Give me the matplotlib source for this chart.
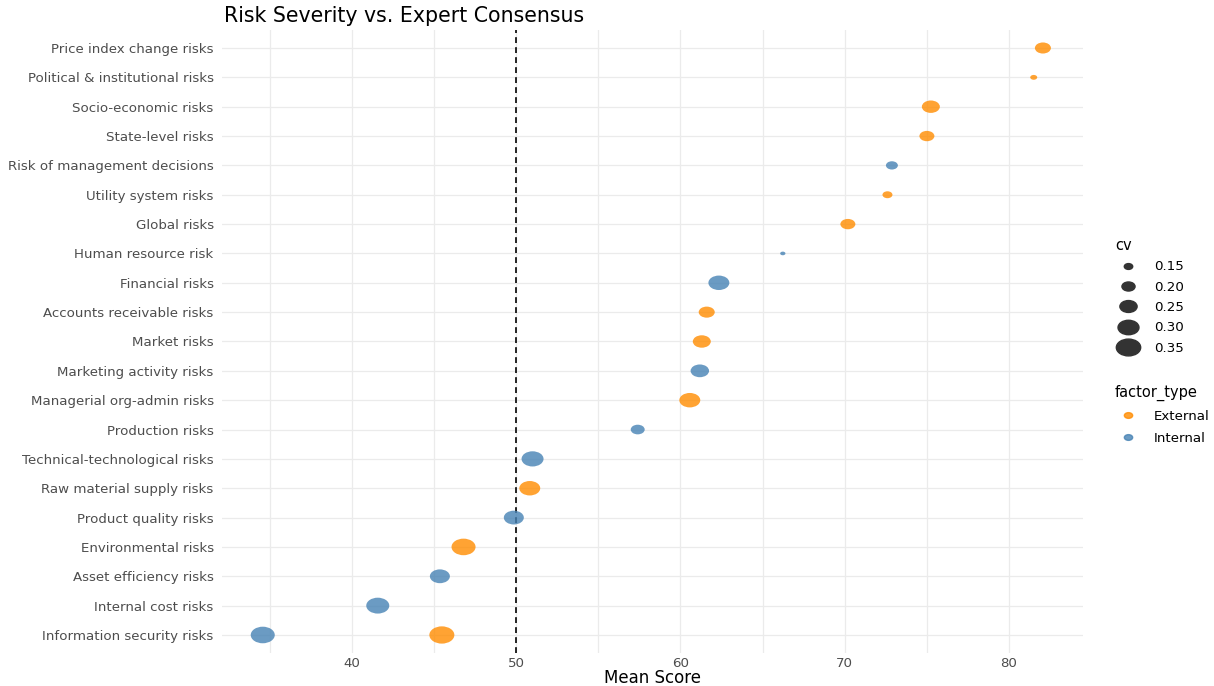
import numpy as np
import matplotlib.pyplot as plt
from matplotlib.path import Path
from matplotlib.transforms import Affine2D
from matplotlib.lines import Line2D

plt.rcParams['font.family'] = ['DejaVu Sans']

# categories, top to bottom
categories = [
    "Price index change risks", "Political & institutional risks",
    "Socio-economic risks", "State-level risks",
    "Risk of management decisions", "Utility system risks", "Global risks",
    "Human resource risk", "Financial risks", "Accounts receivable risks",
    "Market risks", "Marketing activity risks", "Managerial org-admin risks",
    "Production risks", "Technical-technological risks",
    "Raw material supply risks", "Product quality risks",
    "Environmental risks", "Asset efficiency risks", "Internal cost risks",
    "Information security risks",
]

# one entry per point
point_factor = categories + ["Information security risks"]
mean_score = [82.06, 81.5, 75.24, 75.0, 72.87, 72.6, 70.19, 66.23, 62.34,
              61.6, 61.3, 61.18, 60.57, 57.4, 51.0, 50.83, 49.86, 46.8,
              45.36, 41.58, 34.58, 45.48]
cv = [0.235, 0.136, 0.26, 0.222, 0.187, 0.166, 0.222, 0.12, 0.30, 0.235,
      0.26, 0.266, 0.30, 0.21, 0.315, 0.30, 0.287, 0.345, 0.287, 0.33,
      0.345, 0.36]
factor_type = ["External", "External", "External", "External", "Internal",
               "External", "External", "Internal", "Internal", "External",
               "External", "Internal", "External", "Internal", "Internal",
               "External", "Internal", "External", "Internal", "Internal",
               "Internal", "External"]

cv_breaks = [0.15, 0.20, 0.25, 0.30, 0.35]
type_colors = {"External": "#FF8C00", "Internal": "#4682B4"}

# ellipse marker (the reference is stretched horizontally)
ell = Path.unit_circle().transformed(Affine2D().scale(1.0, 1 / 1.45))

cmin, cmax = min(cv), max(cv)


def diam_pt(c):
    # ggplot-like area scale, range 1..6
    size = 1 + 5 * (np.sqrt(c) - np.sqrt(cmin)) / (np.sqrt(cmax) - np.sqrt(cmin))
    return size * 2.845 + 0.945


fig = plt.figure(figsize=(12.14, 6.86), dpi=100)
ax = fig.add_axes([222 / 1214, 0.0487, (1083 - 222) / 1214, 0.907])

ypos = {c: i + 1 for i, c in enumerate(categories)}
ys = np.array([ypos[f] for f in point_factor])
xs = np.array(mean_score)
sizes = np.array([diam_pt(c) ** 2 for c in cv])
cols = [type_colors[t] for t in factor_type]

ax.scatter(xs, ys, s=sizes, c=cols, marker=ell, alpha=0.8, linewidths=0,
           zorder=3)
ax.axvline(50, color="black", linestyle=(0, (3.5, 2.5)), linewidth=1.2,
           zorder=2)

ax.set_ylim(len(categories) + 0.6, 0.4)
ax.set_yticks(range(1, len(categories) + 1))
ax.set_yticklabels(categories)
ax.set_xlim(32.1, 84.5)
ax.set_xticks([40, 50, 60, 70, 80])
ax.set_xticks([35, 45, 55, 65, 75], minor=True)
ax.grid(True, which="both", color="#EBEBEB", linewidth=0.9, zorder=0)
ax.set_axisbelow(True)
for s in ax.spines.values():
    s.set_visible(False)
ax.tick_params(axis="both", which="both", length=0, labelsize=9.6,
               labelcolor="#4D4D4D")
ax.tick_params(axis="x", pad=3)
ax.tick_params(axis="y", pad=6)
ax.set_xlabel("Mean Score", fontsize=12)
ax.xaxis.set_label_coords(0.5, -0.026)
ax.set_title("Risk Severity vs. Expert Consensus", loc="left", fontsize=14.8,
             x=0.002, pad=6)

# legends
h1 = [Line2D([], [], linestyle="none", marker=ell, color="#333333",
             markersize=diam_pt(b)) for b in cv_breaks]
leg1 = fig.legend(h1, ["%.2f" % b for b in cv_breaks], title="cv",
                  loc="upper left", bbox_to_anchor=(1103 / 1214, 1 - 226 / 686),
                  frameon=False, fontsize=9.6, title_fontsize=10.5,
                  labelspacing=0.55, handletextpad=0.9, alignment="left")
h2 = [Line2D([], [], linestyle="none", marker=ell, color=type_colors[t],
             alpha=0.8, markersize=6) for t in ["External", "Internal"]]
leg2 = fig.legend(h2, ["External", "Internal"], title="factor_type",
                  loc="upper left", bbox_to_anchor=(1103 / 1214, 1 - 373 / 686),
                  frameon=False, fontsize=9.6, title_fontsize=10.5,
                  labelspacing=0.65, handletextpad=0.9, alignment="left")

fig.savefig("out.png", dpi=100)
